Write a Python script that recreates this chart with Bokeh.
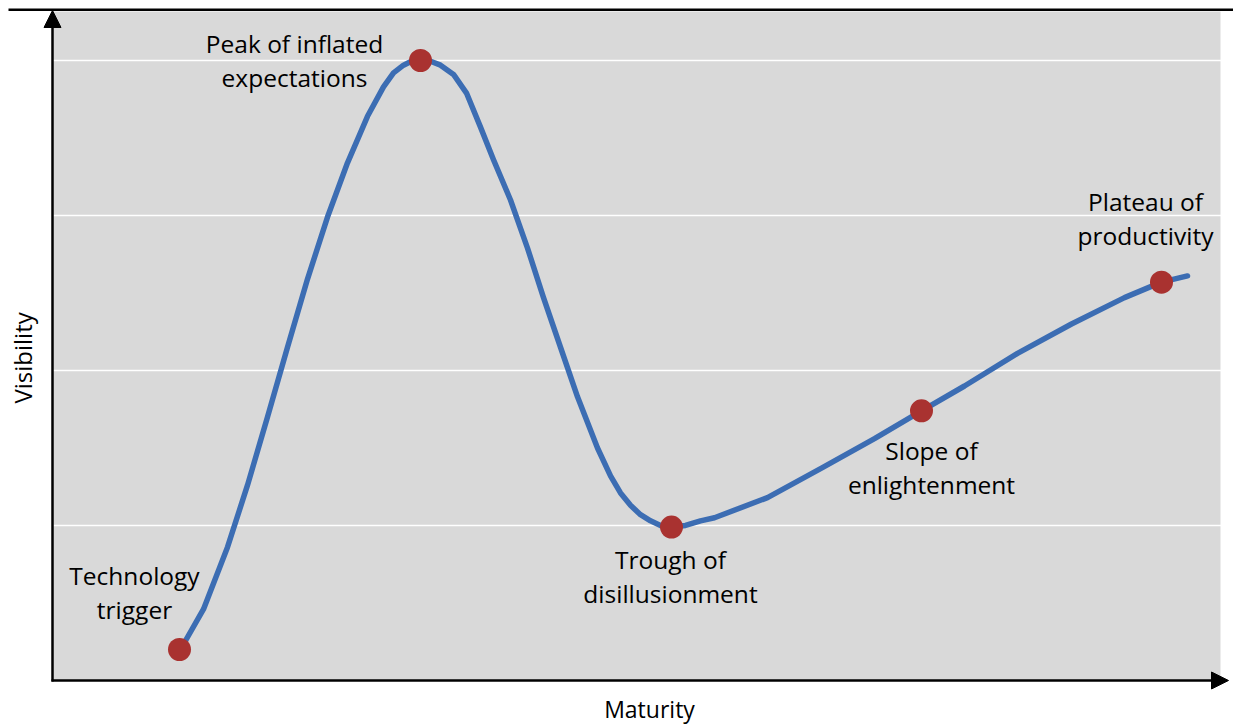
from bokeh.plotting import figure
from bokeh.models import Grid, FixedTicker, Arrow, NormalHead, Label, Range1d, ColumnDataSource, BoxAnnotation
from bokeh.core.properties import value
from bokeh.embed import file_html
from bokeh.resources import INLINE
import math

# Hype-cycle curve (Maturity vs Visibility)
maturity = [1.28, 1.51, 1.75, 1.95, 2.15, 2.35, 2.55, 2.75, 2.95, 3.15, 3.31, 3.41, 3.51,
            3.59, 3.68, 3.78, 3.88, 4.01, 4.14, 4.28, 4.41, 4.58, 4.75, 4.91, 5.08, 5.25,
            5.45, 5.58, 5.68, 5.78, 5.88, 5.98, 6.08, 6.19, 6.33, 6.48, 6.62, 7.15, 7.69,
            8.22, 8.69, 9.12, 9.65, 10.19, 10.72, 11.09, 11.35]
visibility = [0.20, 0.46, 0.86, 1.26, 1.70, 2.15, 2.59, 2.99, 3.34, 3.64, 3.83, 3.92, 3.97,
              3.995, 4.00, 3.995, 3.97, 3.91, 3.79, 3.57, 3.36, 3.10, 2.79, 2.47, 2.15, 1.83,
              1.50, 1.32, 1.21, 1.13, 1.07, 1.03, 1.00, 0.99, 1.00, 1.03, 1.05, 1.18, 1.37,
              1.56, 1.74, 1.90, 2.11, 2.30, 2.47, 2.57, 2.61]

# Phase milestones
phase_x = [1.27, 3.68, 6.19, 8.69, 11.09]
phase_y = [0.20, 4.00, 0.99, 1.74, 2.57]

# Phase labels
label_text = ["Technology\ntrigger", "Peak of inflated\nexpectations", "Trough of\ndisillusionment",
              "Slope of\nenlightenment", "Plateau of\nproductivity"]
label_x = [0.82, 2.42, 6.18, 8.79, 10.93]
label_y = [0.568, 4.000, 0.671, 1.377, 2.980]

grid_ticks = [1, 2, 3, 4]

X_END = 11.68   # end of the shaded plotting area
Y_END = 4.316

p = figure(width=1233, height=726,
           x_range=Range1d(-0.52, 11.81), y_range=Range1d(-0.2968, 4.3871),
           x_axis_location=None, y_axis_location=None,
           toolbar_location=None, output_backend="svg",
           min_border_left=0, min_border_right=0, min_border_top=0, min_border_bottom=0,
           background_fill_color="white", border_fill_color="white",
           outline_line_color=None)
p.xgrid.visible = False
p.ygrid.visible = False

# shaded plot area, then white gridlines on top of it
p.add_layout(BoxAnnotation(left=0, right=X_END, bottom=0, top=Y_END,
                           fill_color="#d9d9d9", fill_alpha=1, line_color=None,
                           level="underlay"))
p.add_layout(Grid(dimension=1, ticker=FixedTicker(ticks=grid_ticks),
                  grid_line_color="white", grid_line_width=1.6))

# black rule along the top
p.add_layout(BoxAnnotation(left=-0.44, bottom=4.3194, top=4.3355,
                           fill_color="black", fill_alpha=1, line_color=None))

p.line(maturity, visibility, line_color="#3c6db3", line_width=5.5,
       line_join="round", line_cap="round")
p.scatter(phase_x, phase_y, size=23, fill_color="#a93230", line_color=None)

src = ColumnDataSource(dict(x=label_x, y=label_y, text=label_text))
p.text(x="x", y="y", text="text", source=src,
       text_font=value("Open Sans"), text_font_size="24.5px",
       text_align="center", text_baseline="middle",
       text_line_height=1.03, text_color="black")

# Axes with arrow heads
p.add_layout(Arrow(end=NormalHead(size=17, fill_color="black", line_color="black", line_width=1),
                   x_start=0, y_start=-0.006, x_end=0, y_end=4.3226,
                   line_color="black", line_width=2.5))
p.add_layout(Arrow(end=NormalHead(size=17, fill_color="black", line_color="black", line_width=1),
                   x_start=-0.01, y_start=0, x_end=11.76, y_end=0,
                   line_color="black", line_width=2.5))

p.add_layout(Label(x=5.97, y=-0.185, text="Maturity", text_font="Open Sans",
                   text_font_size="23px", text_align="center", text_baseline="middle",
                   text_color="black"))
p.add_layout(Label(x=-0.30, y=2.081, text="Visibility", text_font="Open Sans",
                   text_font_size="24px", text_align="center", text_baseline="middle",
                   angle=math.pi / 2, text_color="black"))

open("out.html", "w").write(file_html(p, INLINE))
